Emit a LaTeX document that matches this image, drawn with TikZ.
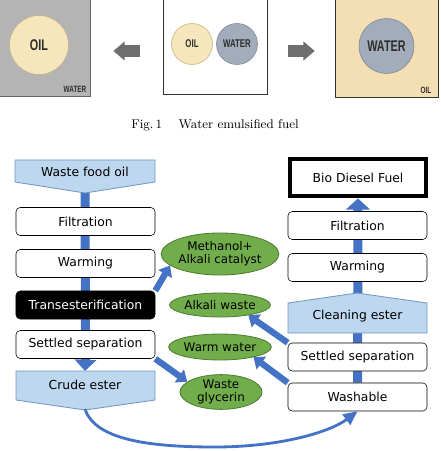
\documentclass[tikz,border=0pt]{standalone}
\usepackage{fontspec}
\newfontfamily\flowfont{DejaVu Sans}
\newfontfamily\tagfont{Liberation Sans}
\usetikzlibrary{shapes.geometric,arrows.meta,backgrounds}
\definecolor{tankgray}{HTML}{B4B4B4}
\definecolor{tanktan}{HTML}{F4DFB4}
\definecolor{oilfill}{HTML}{F6E6BB}
\definecolor{oilline}{HTML}{C4B08A}
\definecolor{waterfill}{HTML}{A3ACBA}
\definecolor{waterline}{HTML}{7E8694}
\definecolor{arrowgray}{HTML}{6E6E6E}
\definecolor{tagink}{HTML}{2E2E2E}
\definecolor{flowblue}{HTML}{4472C4}
\definecolor{paleblue}{HTML}{BDD7EE}
\definecolor{paleline}{HTML}{7396C2}
\definecolor{leafgreen}{HTML}{72AD4B}
\definecolor{leafline}{HTML}{4F7D33}
\newcommand\condtext[1]{\scalebox{0.7}[1]{\bfseries #1}}
\tikzset{
  stepbox/.style={draw,rounded corners=3pt,fill=white,minimum width=3.475cm,minimum height=0.7cm,inner sep=1pt,font=\flowfont\fontsize{8.8}{10}\selectfont},
  pent/.style={fill=paleblue,draw=paleline,line width=0.6pt},
  pentlabel/.style={font=\flowfont\fontsize{8.8}{10}\selectfont},
  blob/.style={ellipse,fill=leafgreen,draw=leafline,line width=0.6pt,inner sep=0pt,align=center,font=\flowfont\fontsize{8.5}{9.5}\selectfont},
  bar/.style={flowblue,line width=6.4pt},
  side/.style={flowblue,line width=4.5pt,-{Triangle[width=11pt,length=7pt]}},
  block/.style={arrowgray,line width=8.5pt,-{Triangle[width=13pt,length=8pt]}},
  bigtag/.style={text=tagink,font=\tagfont\fontsize{11}{11}\selectfont},
  midtag/.style={text=tagink,font=\tagfont\fontsize{8}{9}\selectfont},
  cornertag/.style={text=tagink,font=\tagfont\fontsize{6.5}{7}\selectfont}
}
\begin{document}
\begin{tikzpicture}[x=0.025cm,y=-0.025cm]
\useasboundingbox (0,0) rectangle (440,451);
\node[draw=gray!80!black,fill=tankgray,minimum width=2.5cm,minimum height=2.65cm] (lefttank) at (40,43) {};
\node[draw=gray!40!black,fill=white,minimum width=2.6cm,minimum height=2.6cm] (midtank) at (215,42) {};
\node[draw=gray!40!black,fill=tanktan,minimum width=2.575cm,minimum height=2.675cm] (righttank) at (386.5,43.5) {};
\node[circle,draw=oilline,fill=oilfill,minimum size=1.475cm,bigtag] (leftoil) at (39,45) {\condtext{OIL}};
\node[circle,draw=oilline,fill=oilfill,minimum size=1.025cm,midtag] (midoil) at (192,44) {\condtext{OIL}};
\node[circle,draw=waterline,fill=waterfill,minimum size=1.025cm,midtag] (midwater) at (237,44) {\condtext{WATER}};
\node[circle,draw=waterline,fill=waterfill,minimum size=1.375cm,bigtag] (rightwater) at (386.5,46) {\condtext{WATER}};
\node[cornertag] (lefttag) at (75,89) {\condtext{WATER}};
\node[cornertag] (righttag) at (426,90) {\condtext{OIL}};
\coordinate (arrowline) at (0,51);
\draw[block,shorten <=16.4pt,shorten >=16.4pt] (midtank.west |- arrowline) -- (lefttank.east |- arrowline);
\draw[block,shorten <=15pt,shorten >=14.2pt] (midtank.east |- arrowline) -- (righttank.west |- arrowline);
\node[font=\fontsize{9}{11}\selectfont] (caption) at (215,125) {Fig.\,1\hspace{1.3em}Water emulsified fuel};

\filldraw[pent] (15,160) -- (155,160) -- (155,182) -- (85,193) -- (15,182) -- cycle;
\node[pentlabel] (waste) at (85,172) {Waste food oil};
\coordinate (wastetip) at (85,192);
\node[stepbox] (filt1) at (85.5,221.5) {Filtration};
\node[stepbox] (warm1) at (85.5,263.5) {Warming};
\node[stepbox,fill=black,text=white] (trans) at (85.5,305) {Transesterification};
\node[stepbox] (sep1) at (85.5,344.5) {Settled separation};
\filldraw[pent] (16,371) -- (155,371) -- (155,400) -- (85,410) -- (16,400) -- cycle;
\node[pentlabel] (crude) at (85,385) {Crude ester};
\coordinate (crudetop) at (85,371);
\coordinate (crudetip) at (85,409);

\node[draw,line width=3.5pt,fill=white,minimum width=3.4cm,minimum height=0.925cm,font=\flowfont\fontsize{8.8}{10}\selectfont] (bio) at (358,177.5) {Bio Diesel Fuel};
\node[stepbox] (filt2) at (357.5,225.5) {Filtration};
\node[stepbox] (warm2) at (357.5,267.5) {Warming};
\filldraw[pent] (288,303) -- (357,293) -- (427,303) -- (427,333) -- (288,333) -- cycle;
\node[pentlabel] (clean) at (357.5,316) {Cleaning ester};
\node[stepbox] (sep2) at (357.5,357) {Settled separation};
\node[stepbox] (wash) at (357.5,397) {Washable};

\node[blob,minimum width=2.2cm,minimum height=1.05cm] (meth) at (220,254) {Methanol+\\Alkali catalyst};
\node[blob,minimum width=1.95cm,minimum height=0.6cm] (alk) at (220,305) {Alkali waste};
\node[blob,minimum width=2cm,minimum height=0.65cm] (warmw) at (220,347) {Warm water};
\node[blob,minimum width=2.05cm,minimum height=0.85cm] (glyc) at (221,392) {Waste\\glycerin};

\begin{scope}[on background layer]
\draw[bar] (wastetip) -- (sep1.north);
\draw[bar,-{Triangle[width=15pt,length=8pt]}] (sep1.south) -- (crudetop);
\draw[bar,-{Triangle[width=17pt,length=8pt]}] (wash.north) -- (bio.south);
\end{scope}
\draw[side] (trans.north east) -- (meth.193);
\draw[side] (sep1.south east) -- (glyc.163);
\draw[side] (sep2.north west) -- (alk.340);
\draw[side] (wash.north west) -- (warmw.343);
\draw[flowblue,line width=2pt,-{Triangle[width=9pt,length=10pt]}] (crudetip) .. controls (95,440) and (150,447) .. (215,447) .. controls (280,447) and (330,432) .. (wash.south);
\end{tikzpicture}
\end{document}
